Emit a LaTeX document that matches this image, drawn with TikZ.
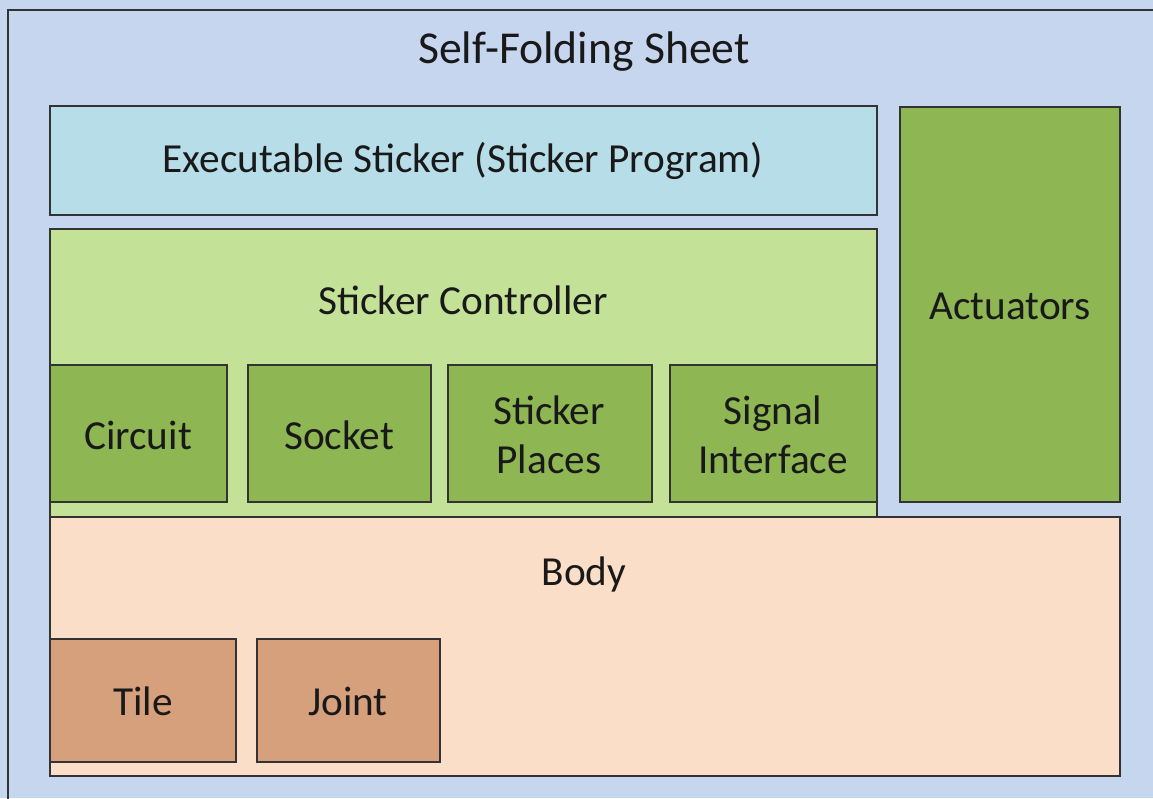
\documentclass[tikz,border=0pt]{standalone}
\usepackage{fontspec}
\setmainfont{Carlito}
\begin{document}
\begin{tikzpicture}[x=0.02cm,y=-0.02cm,
  box/.style={draw=black!80, line width=0.7pt},
  lbl/.style={font=\fontsize{23.5}{28}\selectfont, text=black!90, align=center},
]
\definecolor{sheetblue}{RGB}{199,214,239}
\definecolor{execcyan}{RGB}{183,221,232}
\definecolor{ctrlgreen}{RGB}{196,225,152}
\definecolor{partgreen}{RGB}{142,182,82}
\definecolor{bodypeach}{RGB}{251,222,200}
\definecolor{bodybrown}{RGB}{214,160,124}
\useasboundingbox (0,0) rectangle (1153,798);
% sheet background
\fill[sheetblue] (0,0) rectangle (1153,798);
\draw[box] (8,830) -- (8,10) -- (1190,10);
\node[lbl, font=\fontsize{26}{30}\selectfont] (sheet) at (584,52) {Self-Folding Sheet};
% executable sticker
\draw[box, fill=execcyan] (50,106) rectangle (877,215);
\node[lbl] (exec) at (463,161) {Executable Sticker (Sticker Program)};
% controller
\draw[box, fill=ctrlgreen] (50,229) rectangle (877,517);
\node[lbl] (ctrl) at (463,300) {Sticker Controller};
\draw[box, fill=partgreen] (50,365) rectangle (227,502);
\node[lbl] (circuit) at (138,435) {Circuit};
\draw[box, fill=partgreen] (248,365) rectangle (431,502);
\node[lbl] (socket) at (339,435) {Socket};
\draw[box, fill=partgreen] (448,365) rectangle (652,502);
\node[lbl] (places) at (549,435) {Sticker\\Places};
\draw[box, fill=partgreen] (670,365) rectangle (877,502);
\node[lbl] (signal) at (773,435) {Signal\\Interface};
% actuators
\draw[box, fill=partgreen] (900,107) rectangle (1120,502);
\node[lbl] (act) at (1010,306) {Actuators};
% body
\draw[box, fill=bodypeach] (50,517) rectangle (1120,776);
\node[lbl] (body) at (584,574) {Body};
\draw[box, fill=bodybrown] (50,639) rectangle (236,762);
\node[lbl] (tile) at (143,701) {Tile};
\draw[box, fill=bodybrown] (257,639) rectangle (440,762);
\node[lbl] (joint) at (348,701) {Joint};
\end{tikzpicture}
\end{document}
